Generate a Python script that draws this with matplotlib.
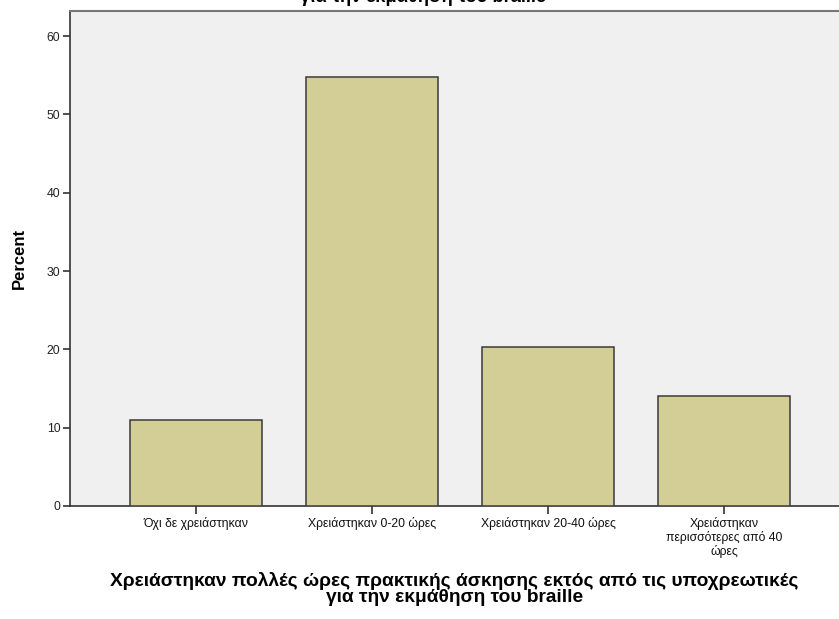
import matplotlib
matplotlib.use("Agg")
import matplotlib.pyplot as plt

categories = ["Όχι δε χρειάστηκαν", "Χρειάστηκαν 0-20 ώρες", "Χρειάστηκαν 20-40 ώρες",
              "Χρειάστηκαν\nπερισσότερες από 40\nώρες"]
percent = [11.0, 54.8, 20.3, 14.05]
yticks = [0, 10, 20, 30, 40, 50, 60]
xlabel = "Χρειάστηκαν πολλές ώρες πρακτικής άσκησης εκτός από τις υποχρεωτικές\nγια την εκμάθηση του braille"
title_tail = "για την εκμάθηση του braille"

plt.rcParams['font.family'] = ['Liberation Sans', 'DejaVu Sans']

W, H = 839, 619
fig = plt.figure(figsize=(W/100, H/100), dpi=100)
fig.patch.set_facecolor("white")

left, right, top, bottom = 70, 839, 11, 506
ax = fig.add_axes([left/W, 1 - bottom/H, (right-left)/W, (bottom-top)/H])
ax.set_facecolor("#F0F0F0")

x = list(range(len(categories)))
ax.bar(x, percent, width=0.745, color="#D2CE96", edgecolor="#3a3a3a", linewidth=1.1, zorder=3)

ax.set_xlim(-0.716, 3.653)
ax.set_ylim(0, 63.2)
ax.set_yticks(yticks)
ax.set_yticklabels([str(v) for v in yticks], fontsize=8.8, color="#222222")
ax.set_xticks(x)
ax.set_xticklabels(categories, fontsize=8.8, color="#111111", linespacing=1.1)
ax.tick_params(axis='x', length=6, width=1.2, color="#333333", pad=2)
ax.tick_params(axis='y', length=5, width=1.2, color="#333333", pad=2)

for s in ['left', 'bottom']:
    ax.spines[s].set_color("#333333")
    ax.spines[s].set_linewidth(1.2)
ax.spines['right'].set_visible(False)
ax.spines['top'].set_color("#777777")
ax.spines['top'].set_linewidth(1.5)

ax.set_ylabel("Percent", fontsize=12, fontweight='bold', labelpad=14)
ax.set_xlabel(xlabel, fontsize=13.8, fontweight='bold', linespacing=0.92, labelpad=10)

fig.text(423/W, 1 - (-3)/H, title_tail, ha='center', va='center', fontsize=13.2, fontweight='bold')

fig.savefig("out.png", dpi=100)
